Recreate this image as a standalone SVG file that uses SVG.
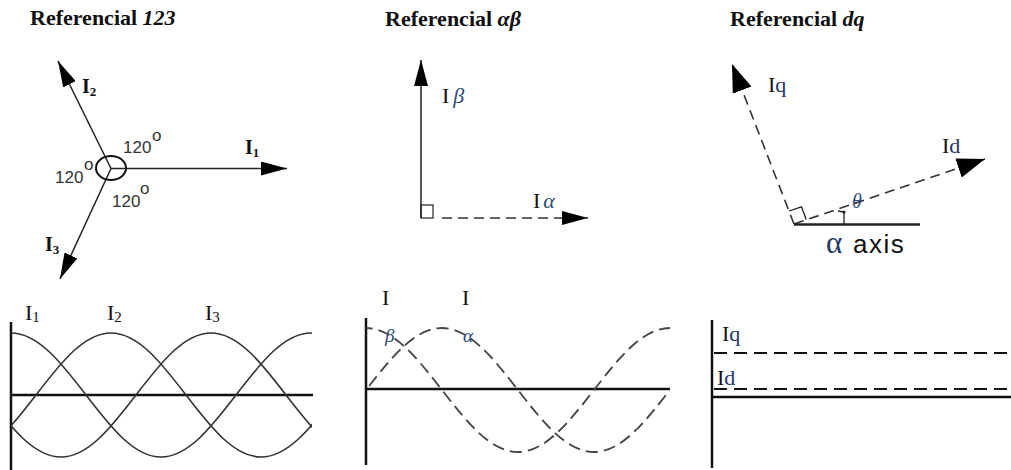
<svg xmlns="http://www.w3.org/2000/svg" xmlns:xlink="http://www.w3.org/1999/xlink" width="1011" height="470" viewBox="0 0 1011 470">
<style>
.title{font-family:"Liberation Serif","Times New Roman",serif;font-weight:bold;font-size:22px;fill:#111}
.lblB{font-family:"Liberation Serif","Times New Roman",serif;font-weight:bold;font-size:20px;fill:#111}
.lbl{font-family:"Liberation Serif","Times New Roman",serif;font-size:22px;fill:#111}
.sub{fill:#1f3864}
.greek{font-family:"Liberation Serif","Times New Roman",serif;font-style:italic;fill:#2d4a73}
.deg{font-family:"Liberation Sans",Arial,sans-serif;font-size:17px;fill:#333}
.axislbl{font-family:"Liberation Sans",Arial,sans-serif;font-size:26px;fill:#111}
.vec{stroke:#222;stroke-width:1.5;fill:none}
.dash{stroke:#333;stroke-width:1.6;fill:none;stroke-dasharray:10 6}
.axis{stroke:#111;stroke-width:2.5;fill:none}
.wave{stroke:#333;stroke-width:1.6;fill:none}
.wavedash{stroke:#444;stroke-width:1.8;fill:none;stroke-dasharray:12 6}
.hdash{stroke:#111;stroke-width:2;fill:none;stroke-dasharray:13 7}
</style>
<defs>
<marker id="arrS" viewBox="0 0 26 14" refX="26" refY="7" markerWidth="26" markerHeight="14" markerUnits="userSpaceOnUse" orient="auto">
<path d="M0,0 L26,7 L0,14 z" fill="#000"/>
</marker>
<marker id="arrL" viewBox="0 0 28 20" refX="28" refY="10" markerWidth="28" markerHeight="20" markerUnits="userSpaceOnUse" orient="auto">
<path d="M0,0 L28,10 L0,20 z" fill="#000"/>
</marker>
<path id="wave" fill="none" d="M-300,-62 c27,0 49.93,29.44 75,62 c25.07,32.56 48.01,62 75,62 c27,0 49.93,-29.44 75,-62 c25.07,-32.56 48.01,-62 75,-62 c27,0 49.93,29.44 75,62 c25.07,32.56 48.01,62 75,62 c27,0 49.93,-29.44 75,-62 c25.07,-32.56 48.01,-62 75,-62 c27,0 49.93,29.44 75,62 c25.07,32.56 48.01,62 75,62 c27,0 49.93,-29.44 75,-62 c25.07,-32.56 48.01,-62 75,-62"/>
<clipPath id="clipL"><rect x="11" y="300" width="301" height="170"/></clipPath>
<clipPath id="clipM"><rect x="366" y="300" width="304" height="170"/></clipPath>
</defs>

<g id="titles">
<text class="title" x="30" y="25">Referencial <tspan font-style="italic">123</tspan></text>
<text class="title" x="385" y="26">Referencial <tspan font-style="italic">αβ</tspan></text>
<text class="title" x="730" y="26">Referencial <tspan font-style="italic">dq</tspan></text>
</g>

<g id="connectors">
<line class="vec" x1="111" y1="168.5" x2="287" y2="168.5" marker-end="url(#arrS)"/>
<line class="vec" x1="111" y1="168.5" x2="58" y2="61" marker-end="url(#arrS)"/>
<line class="vec" x1="111" y1="168.5" x2="60" y2="279" marker-end="url(#arrS)"/>
<line class="vec" x1="421" y1="218" x2="421" y2="60" marker-end="url(#arrS)"/>
<line class="dash" x1="442" y1="218" x2="588" y2="218" marker-end="url(#arrS)"/>
<line class="dash" x1="794" y1="224" x2="732" y2="64" marker-end="url(#arrL)"/>
<line class="dash" x1="794" y1="224" x2="985" y2="159" marker-end="url(#arrL)"/>
</g>

<g id="node-123">
<ellipse cx="111" cy="168" rx="15" ry="12" fill="none" stroke="#111" stroke-width="2"/>
<text class="lblB" x="82" y="93">I<tspan font-size="13" dy="3">2</tspan></text>
<text class="lblB" x="245" y="154">I<tspan font-size="13" dy="3">1</tspan></text>
<text class="lblB" x="45" y="251">I<tspan font-size="13" dy="3">3</tspan></text>
<text class="deg" x="123" y="153">120</text><text class="deg" x="152" y="141" font-size="14">o</text>
<text class="deg" x="55" y="183">120</text><text class="deg" x="84" y="170" font-size="14">o</text>
<text class="deg" x="112" y="207">120</text><text class="deg" x="140" y="194" font-size="14">o</text>
</g>

<g id="node-ab">
<rect x="421" y="205" width="12" height="13" fill="none" stroke="#222" stroke-width="1.2"/>
<text class="lbl" x="442" y="103">I<tspan class="greek" dx="4">β</tspan></text>
<text class="lbl" x="533" y="208">I<tspan class="greek" dx="3">α</tspan></text>
</g>

<g id="node-dq">
<line x1="794" y1="224.5" x2="920" y2="224.5" stroke="#222" stroke-width="2.5"/>
<path d="M789,211 L801.5,206.8 L806.2,219.5" fill="none" stroke="#222" stroke-width="1.3"/>
<path d="M838,211 L844,212 L844,224" fill="none" stroke="#222" stroke-width="1.3"/>
<circle cx="844" cy="212" r="1.6" fill="#222"/>
<text class="lbl" x="768" y="92" font-size="26">I<tspan class="sub">q</tspan></text>
<text class="lbl" x="942" y="153" font-size="26">I<tspan class="sub">d</tspan></text>
<text class="greek" x="852" y="208" font-size="20" fill="#1f3864">θ</text>
<text class="axislbl" y="253"><tspan x="826" font-family="Liberation Serif, serif" font-size="31" fill="#1f3864">α</tspan><tspan x="853" letter-spacing="1.5">axis</tspan></text>
</g>

<g id="node-wave123">
<line class="axis" x1="11" y1="322" x2="11" y2="470"/>
<line class="axis" x1="11" y1="395" x2="313" y2="395"/>
<g clip-path="url(#clipL)" class="wave">
<use xlink:href="#wave" href="#wave" transform="translate(11,395)"/>
<use xlink:href="#wave" href="#wave" transform="translate(111,395)"/>
<use xlink:href="#wave" href="#wave" transform="translate(211,395)"/>
</g>
<text class="lbl" x="25" y="320">I<tspan font-size="15" dy="2">1</tspan></text>
<text class="lbl" x="107" y="320">I<tspan font-size="15" dy="2">2</tspan></text>
<text class="lbl" x="205" y="320">I<tspan font-size="15" dy="2">3</tspan></text>
</g>

<g id="node-waveab">
<line class="axis" x1="366" y1="318" x2="366" y2="465"/>
<line class="axis" x1="366" y1="389" x2="670" y2="389"/>
<g clip-path="url(#clipM)" class="wavedash">
<use xlink:href="#wave" href="#wave" transform="translate(366,390) scale(1.013,1)"/>
<use xlink:href="#wave" href="#wave" transform="translate(366,390) scale(1.013,1) translate(75,0)"/>
</g>
<text class="lbl" x="382" y="305">I</text>
<text class="lbl" x="462" y="305">I</text>
<text class="greek" x="385" y="342" font-size="19">β</text>
<text class="greek" x="463" y="342" font-size="19">α</text>
</g>

<g id="node-wavedq">
<line class="axis" x1="712" y1="320" x2="712" y2="468"/>
<line x1="712" y1="397" x2="1011" y2="397" stroke="#111" stroke-width="2.3"/>
<line class="hdash" x1="714" y1="353" x2="1011" y2="353"/>
<line class="hdash" x1="714" y1="389" x2="1011" y2="389"/>
<text class="lbl" x="722" y="341" font-size="24">I<tspan class="sub">q</tspan></text>
<text class="lbl" x="717" y="385" font-size="24">I<tspan class="sub">d</tspan></text>
</g>
</svg>
